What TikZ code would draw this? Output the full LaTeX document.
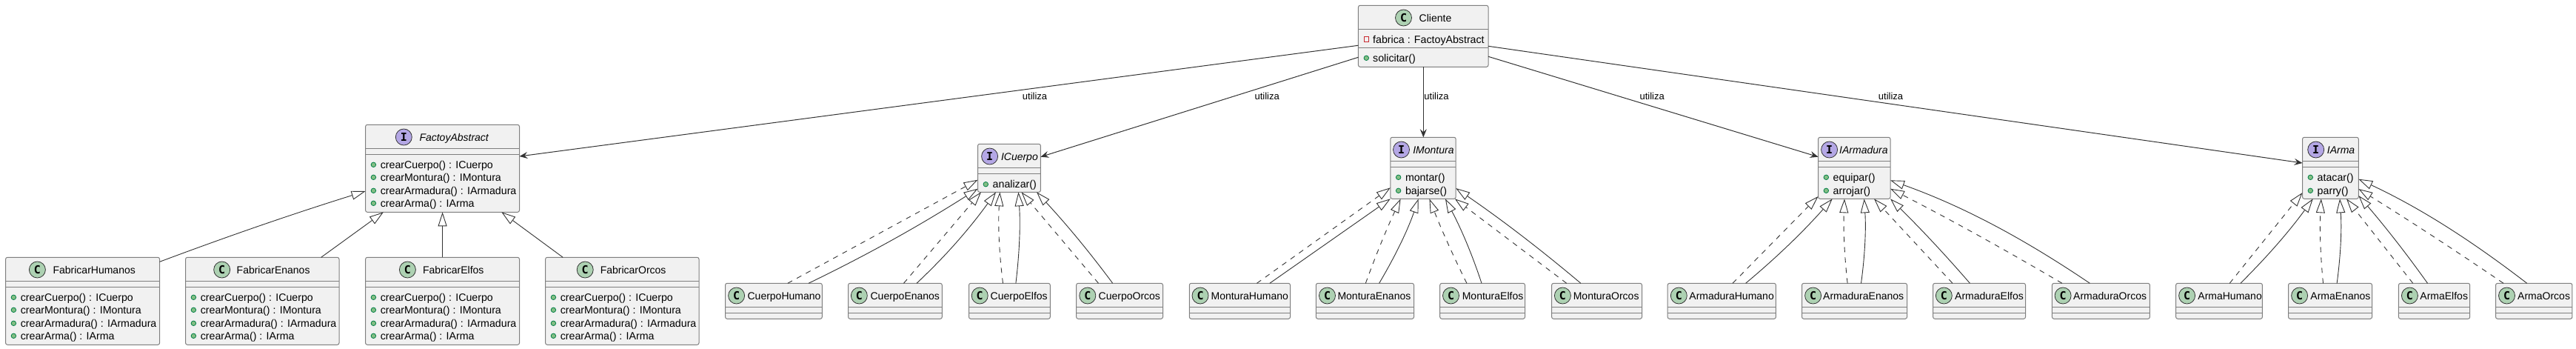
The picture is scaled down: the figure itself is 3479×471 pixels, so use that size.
\documentclass[tikz,border=0pt]{standalone}
\usepackage{fontspec}
\setmainfont{Liberation Sans}
\newfontfamily\circfont{DejaVu Sans Mono}[BoldFont={* Bold}]
\usetikzlibrary{arrows.meta,calc}
\definecolor{boxfill}{HTML}{F1F1F1}
\definecolor{boxline}{HTML}{7F7F7F}
\definecolor{edgeline}{HTML}{333333}
\definecolor{cfill}{HTML}{ADD1B2}
\definecolor{ifill}{HTML}{B4A7E5}
\definecolor{pubfill}{HTML}{84BE84}
\definecolor{publine}{HTML}{038048}
\definecolor{privline}{HTML}{C82930}
\tikzset{
  umlbox/.style={draw=boxline,fill=boxfill,line width=1pt,rounded corners=2.5pt,inner sep=0pt,outer sep=0pt},
  sepline/.style={draw=boxline,line width=1pt},
  badge/.style={circle,draw=edgeline,line width=.8pt,minimum size=22pt,inner sep=0pt,font=\fontsize{15}{15}\circfont\bfseries},
  classbadge/.style={badge,fill=cfill},
  ifacebadge/.style={badge,fill=ifill},
  classtitle/.style={anchor=base west,inner sep=0pt,font=\fontsize{14}{16}\selectfont},
  ifacetitle/.style={anchor=base west,inner sep=0pt,font=\fontsize{14}{16}\selectfont\itshape},
  membertext/.style={anchor=base west,inner sep=0pt,font=\fontsize{14.2}{16}\selectfont},
  pubmark/.style={circle,draw=publine,fill=pubfill,line width=.8pt,minimum size=6.5pt,inner sep=0pt},
  privmark/.style={rectangle,draw=privline,line width=1pt,minimum size=6.5pt,inner sep=0pt},
  edgelabel/.style={anchor=base west,inner sep=0pt,font=\fontsize{13}{15}\selectfont},
  usesedge/.style={draw=edgeline,line width=1pt,-{Stealth[length=11pt,width=9pt,inset=4pt]}},
  extedge/.style={draw=edgeline,line width=.9pt,-{Triangle[length=19pt,width=12pt,fill=white]}},
  impledge/.style={extedge,dash pattern=on 7pt off 7pt},
}
% name, x1, x2, top, bottom, sep1, sep2
\newcommand\umlframe[7]{%
  \node[umlbox,minimum width={#3-#2},minimum height={#5-#4}] (#1) at ({(#2+#3)/2},{(#4+#5)/2}) {};
  \draw[sepline] (#1.west |- 0,#6) -- (#1.east |- 0,#6);
  \draw[sepline] (#1.west |- 0,#7) -- (#1.east |- 0,#7);
}
% name, circle x, text x, centre y, title
\newcommand\classhead[5]{%
  \node[classbadge] (#1-badge) at (#2,#4) {C};
  \node[classtitle] (#1-title) at (#3,#4+5) {#5};
}
\newcommand\ifacehead[5]{%
  \node[ifacebadge] (#1-badge) at (#2,#4) {I};
  \node[ifacetitle] (#1-title) at (#3,#4+5) {#5};
}
% name, row id, box left x, y, text
\newcommand\pubrow[5]{%
  \node[pubmark] (#1-mark#2) at (#3+10.8,#4) {};
  \node[membertext] (#1-text#2) at (#3+20,#4+5) {#5};
}
% empty concrete class: name x1 x2 circle-x text-x title
\newcommand\kid[6]{%
  \umlframe{#1}{#2}{#3}{382.3}{430.3}{414.3}{422.3}
  \classhead{#1}{#4}{#5}{399}{#6}
}
% factory class
\newcommand\fabrica[6]{%
  \umlframe{#1}{#2}{#3}{347.3}{465.3}{379.3}{387.3}
  \classhead{#1}{#4}{#5}{364}{#6}
  \pubrow{#1}{1}{#2}{401.3}{crearCuerpo() : ICuerpo}
  \pubrow{#1}{2}{#2}{418.3}{crearMontura() : IMontura}
  \pubrow{#1}{3}{#2}{436.3}{crearArmadura() : IArmadura}
  \pubrow{#1}{4}{#2}{453.3}{crearArma() : IArma}
}
% style, from, to, control offset
\newcommand\lnk[4]{%
  \draw[#1] (#2) .. controls ($(#2)!.35!(#3)+(#4)$) and ($(#2)!.65!(#3)+(#4)$) .. (#3);
}
\begin{document}
\begin{tikzpicture}[x=1pt,y=-1pt]
\useasboundingbox (0,0) rectangle (3479,471);

% client
\umlframe{cli}{1834.4}{2010}{7.3}{90.3}{39}{64.3}
\classhead{cli}{1895.5}{1916.5}{24}{Cliente}
\node[privmark] (cli-mark1) at (1845.3,53) {};
\node[membertext] (cli-text1) at (1854,58) {fabrica : FactoyAbstract};
\node[pubmark] (cli-mark2) at (1845.3,78.3) {};
\node[membertext] (cli-text2) at (1854,83.3) {solicitar()};

% abstract factory
\umlframe{fac}{493.6}{701.5}{168.3}{286.3}{200.3}{208.3}
\ifacehead{fac}{545.3}{566.3}{185}{FactoyAbstract}
\pubrow{fac}{1}{493.6}{222.3}{crearCuerpo() : ICuerpo}
\pubrow{fac}{2}{493.6}{239.3}{crearMontura() : IMontura}
\pubrow{fac}{3}{493.6}{257.3}{crearArmadura() : IArmadura}
\pubrow{fac}{4}{493.6}{274.3}{crearArma() : IArma}

\fabrica{fabH}{7.6}{215.6}{50.4}{71.4}{FabricarHumanos}
\fabrica{fabE}{250.6}{458}{299.7}{319.5}{FabricarEnanos}
\fabrica{fabL}{493.6}{701.5}{550.4}{570.8}{FabricarElfos}
\fabrica{fabO}{736.6}{944}{790.2}{810.6}{FabricarOrcos}

% interfaces
\umlframe{cue}{1320.5}{1405.4}{194.3}{259.3}{226}{234}
\ifacehead{cue}{1336.6}{1351.8}{211}{ICuerpo}
\pubrow{cue}{1}{1320.5}{248.7}{analizar()}

\umlframe{mon}{1877.8}{1966.2}{185.3}{268.3}{217.3}{225.3}
\ifacehead{mon}{1892.5}{1908.1}{202}{IMontura}
\pubrow{mon}{1}{1877.8}{239.3}{montar()}
\pubrow{mon}{2}{1877.8}{257.3}{bajarse()}

\umlframe{arm}{2455.5}{2553}{185.3}{268.3}{217.3}{225.3}
\ifacehead{arm}{2470.6}{2484}{202}{IArmadura}
\pubrow{arm}{1}{2455.5}{239.3}{equipar()}
\pubrow{arm}{2}{2455.5}{257.3}{arrojar()}

\umlframe{wep}{3109.5}{3185.3}{185.3}{268.3}{217.3}{225.3}
\ifacehead{wep}{3127.7}{3142.7}{202}{IArma}
\pubrow{wep}{1}{3109.5}{239.3}{atacar()}
\pubrow{wep}{2}{3109.5}{257.3}{parry()}

% concrete classes
\kid{cueH}{979.5}{1110.3}{994.6}{1009.4}{CuerpoHumano}
\kid{cueE}{1145.5}{1272.3}{1160.3}{1175.4}{CuerpoEnanos}
\kid{cueL}{1308.5}{1418.3}{1323.2}{1337.5}{CuerpoElfos}
\kid{cueO}{1453.6}{1570.5}{1468.8}{1483.5}{CuerpoOrcos}
\kid{monH}{1606.3}{1742.5}{1621}{1635.4}{MonturaHumano}
\kid{monE}{1777.3}{1909.5}{1792.5}{1806.3}{MonturaEnanos}
\kid{monL}{1944.7}{2059.5}{1959.5}{1974.6}{MonturaElfos}
\kid{monO}{2095.6}{2217.5}{2110.4}{2124.6}{MonturaOrcos}
\kid{armH}{2252.2}{2398.4}{2267.3}{2281.2}{ArmaduraHumano}
\kid{armE}{2433.5}{2575.5}{2448.6}{2462}{ArmaduraEnanos}
\kid{armL}{2610.6}{2735.5}{2625.3}{2640}{ArmaduraElfos}
\kid{armO}{2771.4}{2903.4}{2786.1}{2800}{ArmaduraOrcos}
\kid{wepH}{2938.6}{3055.4}{2953.6}{2968.2}{ArmaHumano}
\kid{wepE}{3090.5}{3203.5}{3105.6}{3120.2}{ArmaEnanos}
\kid{wepL}{3239.4}{3335.7}{3254.4}{3268.2}{ArmaElfos}
\kid{wepO}{3370.5}{3473.9}{3385.5}{3400}{ArmaOrcos}

% uses edges
\draw[usesedge] (cli.west |- 0,61.3) -- (fac.east |- 0,211);
\draw[usesedge] (cli.west |- 0,77.3) -- (cue.east |- 0,211.7);
\draw[usesedge] (cli.south -| 1922.3,0) -- (mon.north -| 1922.3,0);
\draw[usesedge] (cli.east |- 0,76.3) -- (arm.west |- 0,211.7);
\draw[usesedge] (cli.east |- 0,62.3) -- (wep.west |- 0,220);
\node[edgelabel] (lab-fac) at (1380.7,134) {utiliza};
\node[edgelabel] (lab-cue) at (1694.3,134) {utiliza};
\node[edgelabel] (lab-mon) at (1923.2,134) {utiliza};
\node[edgelabel] (lab-arm) at (2214.3,134) {utiliza};
\node[edgelabel] (lab-wep) at (2536.7,134) {utiliza};

% factory inheritance
\lnk{extedge}{fabH.east |- 0,353.3}{fac.west |- 0,258}{0,-3}
\draw[extedge] (fabE.north -| 433.7,0) -- (fac.south -| 517.9,0);
\draw[extedge] (fabL.north -| 597.6,0) -- (fac.south -| 597.6,0);
\draw[extedge] (fabO.north -| 760.2,0) -- (fac.south -| 677.3,0);

% ICuerpo
\draw[impledge] (cueH.north -| 1063.8,0) -- (cue.west |- 0,242.7);
\lnk{extedge}{cueH.north -| 1092,0}{cue.west |- 0,254.7}{0,6}
\draw[impledge] (cueE.north -| 1220.5,0) -- (cue.south -| 1325,0);
\lnk{extedge}{cueE.north -| 1238,0}{cue.south -| 1345,0}{2,6}
\lnk{impledge}{cueL.north -| 1354.5,0}{cue.south -| 1350.4,0}{-4,0}
\lnk{extedge}{cueL.north -| 1371.9,0}{cue.south -| 1375.4,0}{4,0}
\draw[impledge] (cueO.north -| 1483.5,0) -- (cue.south -| 1379.5,0);
\lnk{extedge}{cueO.north -| 1502.7,0}{cue.south -| 1400,0}{4,0}

% IMontura
\draw[impledge] (monH.north -| 1697.4,0) -- (mon.west |- 0,253.3);
\draw[extedge] (monH.north -| 1714.8,0) -- (mon.west |- 0,268.3);
\lnk{impledge}{monE.north -| 1844.3,0}{mon.south -| 1891.6,0}{-2,0}
\lnk{extedge}{monE.north -| 1862.6,0}{mon.south -| 1915.7,0}{5,0}
\lnk{impledge}{monL.north -| 1980.9,0}{mon.south -| 1930.4,0}{-2,0}
\lnk{extedge}{monL.north -| 2001,0}{mon.south -| 1951.9,0}{4,0}
\draw[impledge] (monO.north -| 2115.7,0) -- (mon.south -| 1964.8,0);
\lnk{extedge}{monO.north -| 2134.9,0}{mon.east |- 0,254}{2,-3}

% IArmadura
\draw[impledge] (armH.north -| 2340,0) -- (arm.west |- 0,265);
\lnk{extedge}{armH.north -| 2357.6,0}{arm.south -| 2474.7,0}{2,4}
\lnk{impledge}{armE.north -| 2495.1,0}{arm.south -| 2491,0}{-3,0}
\lnk{extedge}{armE.north -| 2513.5,0}{arm.south -| 2517.6,0}{4,0}
\draw[impledge] (armL.north -| 2637,0) -- (arm.south -| 2531,0);
\lnk{extedge}{armL.north -| 2660.4,0}{arm.east |- 0,268.3}{3,0}
\lnk{impledge}{armO.north -| 2784.9,0}{arm.east |- 0,254.7}{0,-3}
\lnk{extedge}{armO.north -| 2822.4,0}{arm.east |- 0,243.3}{0,-15}

% IArma
\draw[impledge] (wepH.north -| 3011.2,0) -- (wep.west |- 0,260);
\lnk{extedge}{wepH.north -| 3025.8,0}{wep.south -| 3123.7,0}{3,3}
\lnk{impledge}{wepE.north -| 3137.5,0}{wep.south -| 3134.8,0}{-3,0}
\lnk{extedge}{wepE.north -| 3156.1,0}{wep.south -| 3160,0}{4,0}
\draw[impledge] (wepL.north -| 3258.7,0) -- (wep.south -| 3169,0);
\lnk{extedge}{wepL.north -| 3278.5,0}{wep.east |- 0,264}{3,0}
\lnk{impledge}{wepO.north -| 3381,0}{wep.east |- 0,255}{0,-2}
\lnk{extedge}{wepO.north -| 3412.7,0}{wep.east |- 0,241.7}{0,-12}
\end{tikzpicture}
\end{document}
